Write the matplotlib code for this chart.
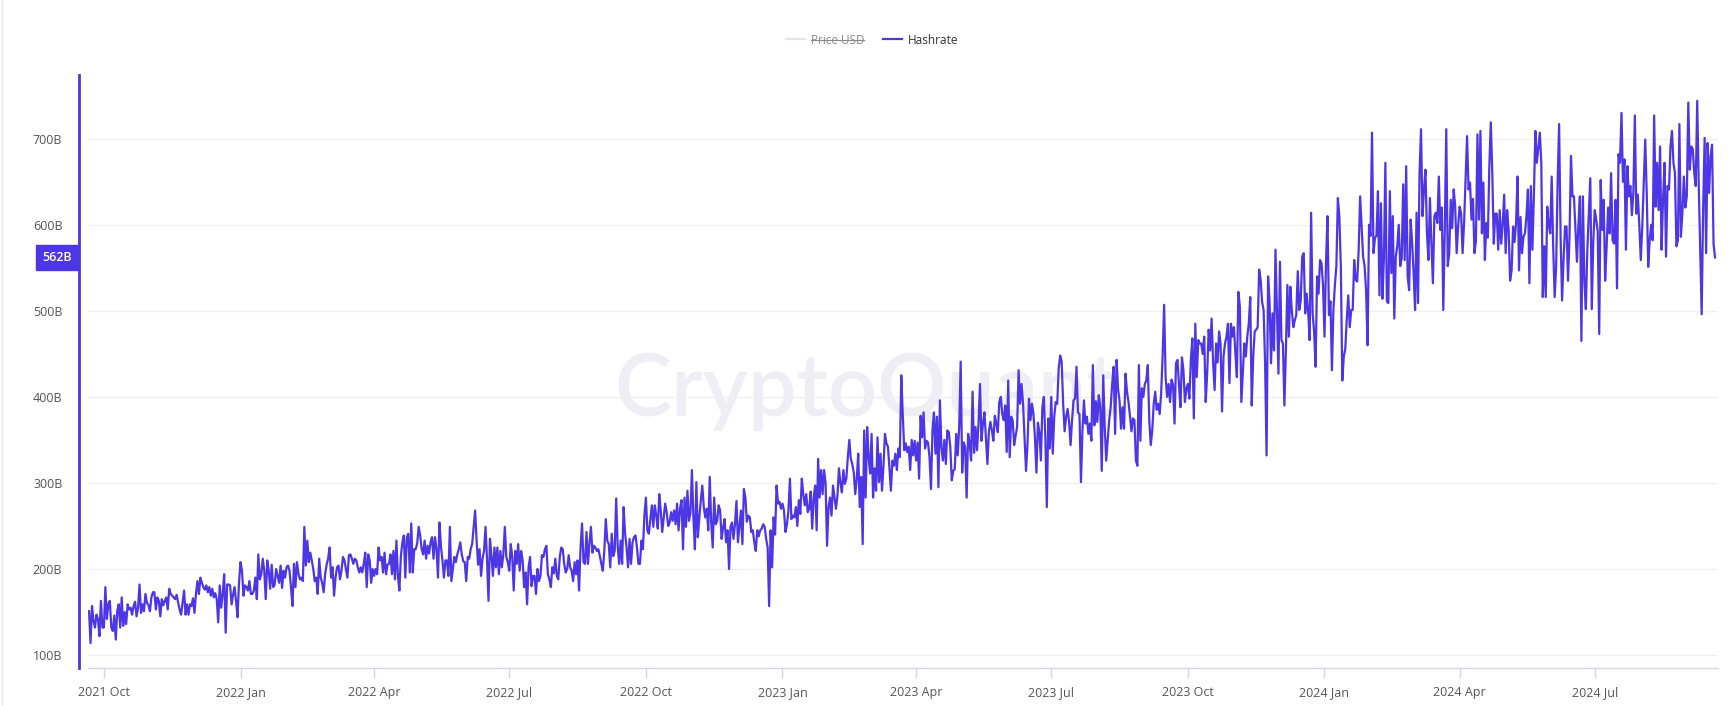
import numpy as np
import pandas as pd
import matplotlib
matplotlib.use("Agg")
import matplotlib.pyplot as plt
import matplotlib.dates as mdates
from matplotlib.lines import Line2D
from matplotlib.transforms import blended_transform_factory

# --- Daily hashrate (in B), one list per year ---
start_date = "2021-09-21"

hr_2021 = [
    # Sep 21-30
    151, 114, 157, 140, 132, 147, 142, 122, 163, 132,
    # Oct
    132, 179, 142, 159, 163, 132, 128, 146, 118, 151, 159, 132, 167, 134, 150, 136,
    159, 153, 155, 147, 157, 162, 145, 155, 182, 149, 159, 151, 171, 161, 158,
    # Nov
    151, 167, 173, 173, 153, 167, 163, 145, 165, 158, 163, 167, 153, 177, 171, 169,
    167, 165, 170, 161, 153, 147, 161, 175, 147, 159, 147, 159, 157, 166,
    # Dec
    149, 171, 186, 171, 190, 184, 179, 176, 181, 173, 179, 169, 177, 167, 172, 165,
    138, 181, 155, 171, 194, 126, 182, 182, 181, 159, 170, 179, 163, 144, 184,
]

hr_2022 = [
    # Jan
    208, 198, 169, 181, 179, 175, 186, 171, 171, 175, 190, 165, 217, 188, 194, 212,
    198, 165, 210, 198, 177, 205, 179, 182, 200, 192, 184, 204, 178, 198, 190,
    # Feb
    202, 204, 198, 179, 157, 206, 179, 208, 195, 188, 190, 186, 249, 204, 233, 208,
    219, 210, 200, 186, 190, 171, 212, 190, 184, 173, 194, 205,
    # Mar
    212, 225, 190, 202, 169, 190, 202, 204, 188, 198, 214, 210, 200, 190, 216, 217,
    212, 206, 212, 210, 202, 196, 202, 196, 206, 219, 179, 217, 210, 184, 200,
    # Apr
    192, 200, 194, 225, 210, 214, 196, 219, 194, 205, 206, 217, 194, 221, 188, 233,
    192, 175, 215, 231, 239, 190, 237, 241, 196, 253, 196, 223, 223, 230,
    # May
    249, 239, 223, 217, 233, 212, 227, 218, 231, 237, 212, 237, 223, 190, 254, 226,
    210, 190, 210, 210, 192, 249, 186, 200, 214, 208, 217, 223, 231, 217, 209,
    # Jun
    208, 186, 214, 212, 223, 229, 249, 268, 233, 205, 223, 192, 212, 221, 249, 212,
    163, 235, 215, 192, 225, 202, 225, 194, 221, 202, 217, 249, 214, 208,
    # Jul
    198, 229, 214, 175, 221, 206, 229, 198, 221, 210, 179, 196, 159, 202, 214, 180,
    192, 192, 171, 200, 186, 192, 216, 214, 223, 227, 194, 188, 179, 202, 195,
    # Aug
    212, 192, 188, 214, 225, 223, 206, 196, 200, 216, 202, 198, 186, 208, 194, 210,
    175, 225, 253, 208, 206, 243, 206, 230, 249, 219, 227, 225, 221, 223, 215,
    # Sep
    206, 198, 221, 258, 233, 229, 202, 241, 215, 221, 282, 227, 206, 233, 206, 272,
    241, 225, 202, 235, 206, 231, 237, 239, 225, 206, 206, 233, 223, 262,
    # Oct
    283, 245, 241, 258, 274, 249, 274, 262, 247, 287, 268, 243, 260, 276, 266, 250,
    254, 266, 256, 268, 252, 276, 245, 270, 280, 223, 283, 249, 291, 256, 265,
    # Nov
    315, 260, 223, 301, 237, 260, 280, 297, 272, 260, 270, 245, 307, 254, 225, 283,
    252, 256, 274, 268, 235, 248, 258, 231, 245, 200, 249, 254, 235, 252,
    # Dec
    279, 231, 249, 268, 229, 293, 283, 255, 262, 260, 243, 245, 231, 221, 245, 238,
    245, 247, 252, 249, 235, 225, 157, 245, 202, 260, 240, 297, 276, 278, 270,
]

hr_2023 = [
    # Jan
    276, 268, 243, 252, 268, 305, 258, 262, 260, 272, 250, 280, 264, 305, 287, 274,
    287, 266, 270, 290, 247, 283, 297, 245, 328, 283, 315, 287, 315, 300, 227,
    # Feb
    272, 283, 262, 297, 283, 270, 285, 317, 300, 289, 315, 299, 305, 330, 350, 328,
    322, 312, 287, 305, 334, 272, 307, 229, 361, 283, 365, 330,
    # Mar
    311, 357, 283, 317, 291, 353, 301, 334, 291, 320, 357, 346, 342, 318, 291, 326,
    320, 334, 315, 340, 330, 425, 379, 338, 346, 336, 342, 315, 350, 332, 349,
    # Apr
    326, 347, 305, 378, 353, 382, 340, 349, 347, 330, 293, 361, 382, 334, 377, 295,
    396, 342, 326, 350, 322, 361, 359, 342, 303, 314, 316, 357, 332, 365,
    # May
    441, 312, 347, 342, 283, 357, 347, 326, 406, 335, 365, 338, 369, 415, 349, 369,
    382, 351, 322, 360, 371, 361, 349, 378, 369, 359, 394, 400, 380, 373, 390,
    # Jun
    336, 419, 330, 377, 373, 344, 355, 365, 431, 392, 415, 392, 353, 314, 345, 398,
    373, 392, 380, 353, 312, 370, 359, 326, 388, 400, 353, 272, 375, 340,
    # Jul
    400, 334, 377, 394, 392, 433, 448, 441, 392, 360, 377, 386, 371, 344, 373, 396,
    398, 435, 382, 380, 301, 361, 396, 369, 377, 357, 369, 349, 437, 367, 395,
    # Aug
    371, 402, 388, 314, 425, 365, 326, 350, 373, 388, 415, 435, 357, 443, 409, 395,
    363, 388, 363, 427, 406, 394, 378, 360, 375, 373, 326, 320, 437, 349, 410,
    # Sep
    400, 415, 419, 437, 373, 344, 361, 392, 406, 385, 392, 380, 404, 448, 507, 423,
    400, 415, 394, 420, 414, 369, 439, 443, 414, 388, 446, 431, 394, 410,
    # Oct
    415, 398, 443, 468, 375, 485, 423, 466, 462, 462, 450, 470, 394, 427, 478, 454,
    491, 439, 408, 462, 440, 476, 462, 383, 447, 462, 470, 485, 416, 485, 470,
    # Nov
    481, 450, 423, 522, 505, 394, 427, 462, 447, 470, 485, 516, 390, 447, 476, 478,
    481, 548, 536, 510, 501, 439, 332, 540, 511, 439, 497, 454, 571, 500,
    # Dec
    427, 557, 466, 462, 390, 454, 530, 470, 528, 500, 481, 489, 495, 546, 501, 512,
    563, 567, 497, 520, 499, 466, 614, 497, 476, 435, 540, 520, 559, 555, 530,
]

hr_2024 = [
    # Jan
    470, 555, 610, 495, 511, 431, 501, 530, 552, 631, 610, 552, 419, 447, 456, 490,
    518, 481, 501, 501, 559, 536, 534, 570, 633, 598, 563, 552, 524, 460, 600,
    # Feb
    587, 707, 567, 585, 587, 639, 518, 625, 514, 560, 672, 511, 509, 639, 544, 610,
    491, 563, 575, 600, 552, 561, 647, 559, 668, 540, 524, 606, 580,
    # Mar
    544, 501, 614, 509, 660, 711, 610, 641, 664, 590, 559, 631, 579, 532, 610, 614,
    602, 656, 594, 620, 501, 594, 711, 552, 567, 629, 596, 641, 622, 567, 598,
    # Apr
    621, 613, 567, 602, 652, 703, 641, 649, 606, 630, 567, 582, 705, 606, 709, 590,
    649, 559, 602, 585, 668, 719, 660, 578, 613, 613, 571, 617, 578, 600,
    # May
    635, 567, 617, 594, 535, 547, 598, 580, 602, 656, 547, 609, 567, 586, 590, 610,
    641, 532, 645, 571, 633, 709, 672, 690, 707, 672, 516, 575, 516, 621, 600,
    # Jun
    590, 656, 575, 516, 551, 649, 717, 586, 512, 560, 598, 598, 535, 586, 680, 633,
    633, 594, 557, 600, 633, 465, 633, 535, 502, 571, 613, 654, 502, 580,
    # Jul
    617, 606, 592, 473, 652, 594, 629, 535, 575, 620, 590, 660, 582, 578, 629, 526,
    682, 672, 730, 650, 676, 571, 668, 633, 645, 611, 637, 727, 613, 635, 600,
    # Aug
    559, 598, 649, 699, 637, 551, 582, 600, 582, 727, 621, 672, 617, 691, 571, 630,
    672, 563, 645, 641, 691, 709, 672, 660, 575, 582, 717, 586, 613, 656, 620,
    # Sep 1-20
    633, 742, 664, 691, 688, 660, 645, 744, 649, 575, 496, 620, 701, 567, 695, 637,
    680, 693, 578, 562,
]

y_ticks = [100, 200, 300, 400, 500, 600, 700]
legend_labels = ["Price USD", "Hashrate"]

PURPLE = "#4d36e6"
TXT = "#555555"

hashrate = np.array(hr_2021 + hr_2022 + hr_2023 + hr_2024, dtype=float)
dates = pd.date_range(start_date, periods=len(hashrate), freq="D")

plt.rcParams["font.family"] = ["Open Sans", "DejaVu Sans"]

fig = plt.figure(figsize=(17.34, 7.06), dpi=100)
ax = fig.add_axes([88 / 1734, 38 / 706, 1630 / 1734, 593 / 706])

# watermark, kept under the line
ax.text(0.4995, 1 - 416 / 706, "CryptoQuant", transform=fig.transFigure,
        ha="center", va="baseline", fontsize=62, fontweight="semibold",
        color="#efeef4", family=["Lato", "DejaVu Sans"], zorder=1)

line, = ax.plot(dates, hashrate, color=PURPLE, lw=1.6, zorder=3)

ax.set_ylim(85, 774)
ax.set_xlim(dates[0] - pd.Timedelta(days=0.7), dates[0] + pd.Timedelta(days=1097))

ax.set_yticks(y_ticks)
ax.set_yticklabels([f"{v}B" for v in y_ticks])
ax.yaxis.grid(True, color="#f0f0f3", lw=1, zorder=0)
ax.set_axisbelow(True)

ax.xaxis.set_major_locator(mdates.MonthLocator(bymonth=[1, 4, 7, 10]))
ax.xaxis.set_major_formatter(mdates.DateFormatter("%Y %b"))

for s in ["top", "right"]:
    ax.spines[s].set_visible(False)
ax.spines["bottom"].set_color("#d6d6e2")
ax.spines["bottom"].set_linewidth(1)
ax.spines["left"].set_position(("outward", 6.5))
ax.spines["left"].set_color(PURPLE)
ax.spines["left"].set_linewidth(2)

ax.tick_params(axis="y", length=0, pad=12, labelsize=9, labelcolor=TXT)
ax.tick_params(axis="x", length=7, width=1, color="#d6d6e2", pad=6,
               labelsize=9, labelcolor=TXT)

# current value tag
tr = blended_transform_factory(ax.transAxes, ax.transData)
ax.text(-0.0098, hashrate[-1], f"{hashrate[-1]:.0f}B", transform=tr,
        ha="right", va="center", color="white", fontsize=9, fontweight="semibold",
        clip_on=False, bbox=dict(boxstyle="square,pad=0.5", fc=PURPLE, ec=PURPLE))

# legend (Price USD series is toggled off)
price_handle = Line2D([], [], color="#e4e4ea", lw=1.6)
leg = fig.legend([price_handle, line], legend_labels, loc="center",
                 bbox_to_anchor=(0.503, 1 - 40 / 706), ncol=2, frameon=False,
                 fontsize=8.5, handlelength=1.6, handletextpad=0.5,
                 columnspacing=1.6)
leg.get_texts()[0].set_color("#8a8a8a")
leg.get_texts()[1].set_color("#333333")

# left border of the card
fig.add_artist(Line2D([0.0012, 0.0012], [0, 1], color="#e8e8ec", lw=1))

fig.canvas.draw()
bb = leg.get_texts()[0].get_window_extent()
W, H = fig.bbox.width, fig.bbox.height
ym = (bb.y0 + bb.y1) / 2 / H
fig.add_artist(Line2D([bb.x0 / W, bb.x1 / W], [ym, ym], color="#8a8a8a", lw=0.8))

fig.savefig("out.png", dpi=100)
